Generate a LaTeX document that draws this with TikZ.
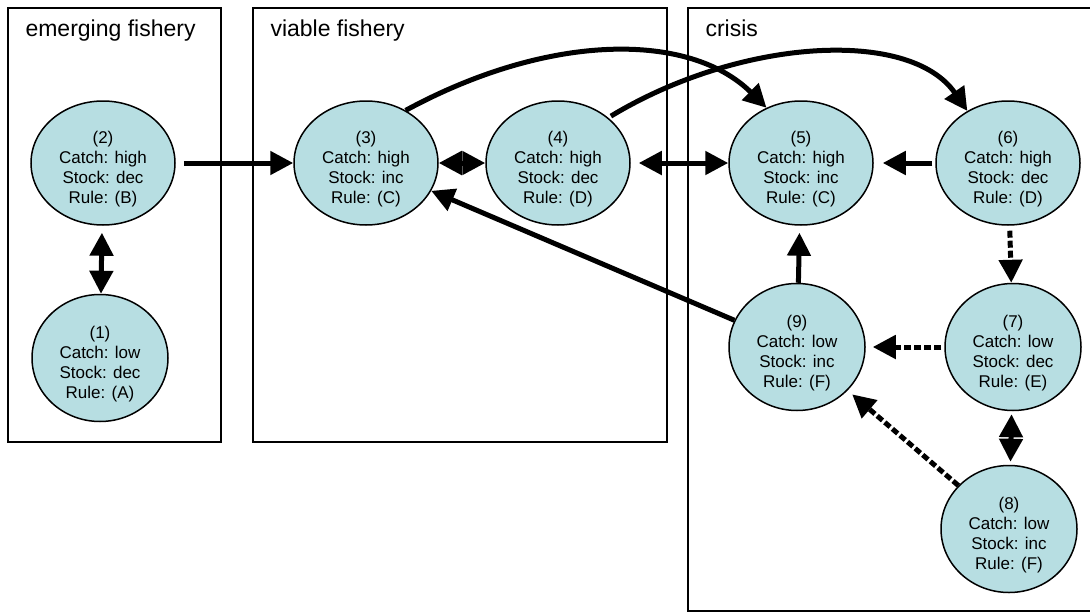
\documentclass[tikz,border=0pt]{standalone}
\usepackage{fontspec}
\setmainfont{Liberation Sans}
\usetikzlibrary{shapes.geometric,arrows.meta}
\definecolor{statefill}{RGB}{183,222,226}
\newcommand{\fishstate}[4]{\rule{0pt}{24pt}(#1)\\Catch: #2\\Stock: #3\\Rule: (#4)}
\tikzset{
  state/.style={ellipse, draw, line width=1.5pt, fill=statefill, inner sep=0pt, align=center, font=\fontsize{17}{20}\selectfont},
  upper/.style={state, minimum width=144pt, minimum height=124pt},
  lower/.style={state, minimum width=136pt, minimum height=127pt},
  zone/.style={draw, line width=2.5pt},
  zonelabel/.style={anchor=base west, font=\fontsize{23}{27}\selectfont},
  move/.style={line width=5pt, -{Triangle[length=23pt,width=23pt]}},
  twoway/.style={line width=5pt, {Triangle[length=23pt,width=23pt]}-{Triangle[length=23pt,width=23pt]}},
  drift/.style={move, dash pattern=on 7pt off 3pt},
}
\begin{document}
\begin{tikzpicture}[x=1pt, y=1pt]
    \useasboundingbox (0,0) rectangle (1090,-613);

    % Phases
    \draw[zone] (8,-8) rectangle (221,-442);
    \draw[zone] (253,-8) rectangle (667,-442);
    \draw[zone] (1090,-8) -- (688,-8) -- (688,-611) -- (1090,-611);
    \node[zonelabel] (lemerge) at (22,-36) {emerging fishery};
    \node[zonelabel] (lviable) at (267,-36) {viable fishery};
    \node[zonelabel] (lcrisis) at (702,-36) {crisis};

    % States
    \node[upper] (n2) at (103,-163) {\fishstate{2}{high}{dec}{B}};
    \node[lower] (n1) at (100,-358) {\fishstate{1}{low}{dec}{A}};
    \node[upper] (n3) at (366,-163) {\fishstate{3}{high}{inc}{C}};
    \node[upper] (n4) at (558,-163) {\fishstate{4}{high}{dec}{D}};
    \node[upper] (n5) at (801,-163) {\fishstate{5}{high}{inc}{C}};
    \node[upper] (n6) at (1008,-163) {\fishstate{6}{high}{dec}{D}};
    \node[lower] (n9) at (797,-347) {\fishstate{9}{low}{inc}{F}};
    \node[lower] (n7) at (1013,-347) {\fishstate{7}{low}{dec}{E}};
    \node[lower] (n8) at (1009,-529) {\fishstate{8}{low}{inc}{F}};

    % Transitions
    \draw[move, shorten <=8pt] (n2) -- (n3);
    \draw[twoway, shorten <=7pt] (n2) -- (n1);
    \draw[twoway] (n3) -- (n4);
    \draw[twoway, shorten <=8pt] (n4) -- (n5);
    \draw[move, shorten <=3pt, shorten >=9pt] (n6) -- (n5);
    \draw[move, shorten >=7pt] (n9) -- (n5);
    \draw[move] (n9) -- (n3);
    \draw[move] (n3.53) .. controls (550,-32) and (690,-32) .. (n5.122);
    \draw[move, shorten <=3pt] (n4.42) .. controls (740,-38) and (910,-28) .. (n6.128);

    % Drift to low catch
    \draw[drift, shorten <=5pt] (n6) -- (n7);
    \draw[drift, shorten <=3pt, shorten >=7pt] (n7) -- (n9);
    \draw[drift, shorten >=6pt] (n8) -- (n9);
    \draw[twoway, shorten <=3pt, shorten >=3pt] (n7) -- (n8);
\end{tikzpicture}
\end{document}
